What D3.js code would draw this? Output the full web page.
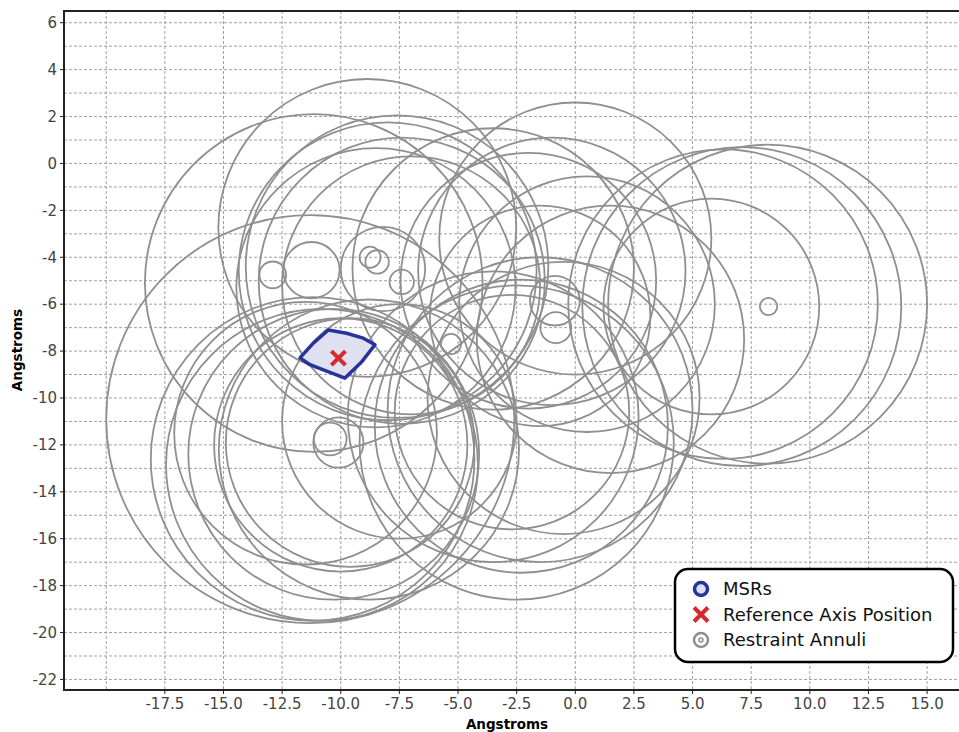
<!DOCTYPE html>
<html>
<head>
<meta charset="utf-8">
<script src="https://cdn.jsdelivr.net/npm/d3@7"></script>
<style>
  body { margin: 0; background: #fff; }
  svg { display: block; font-family: "DejaVu Sans", sans-serif; }
</style>
</head>
<body>
<svg id="chart" width="959" height="732"></svg>
<script>
// tick labels
var xTicks = [-17.5, -15.0, -12.5, -10.0, -7.5, -5.0, -2.5, 0.0, 2.5, 5.0, 7.5, 10.0, 12.5, 15.0];
var yTicks = [-22, -20, -18, -16, -14, -12, -10, -8, -6, -4, -2, 0, 2, 4, 6];

// restraint annuli (centre x, centre y, radius) in Angstroms
var ringX = [-8.87, -11.15, -7.6, -8.0, -7.4, -8.5, -7.0,
             0.0, -1.0, -2.0, 0.5, -1.5, -3.5, 1.5,
             -2.5, -2.3, -2.7, -1.5, -0.5, -3.5,
             -11.3, -10.8, -11.2, -10.3, -10.0, -9.6, -11.5, -8.8, -7.5,
             6.3, 7.1, 8.2, 5.8,
             -12.9, -11.25, -8.75, -8.45, -8.2, -7.4, -5.3, -10.1, -10.45, -0.87, -0.83, 8.24];
var ringY = [-2.75, -5.1, -4.4, -4.6, -5.0, -5.3, -5.2,
             -3.2, -4.6, -5.0, -6.0, -6.5, -4.5, -7.5,
             -11.9, -11.2, -10.6, -10.5, -10.0, -10.8,
             -10.9, -12.85, -12.6, -12.4, -12.0, -11.9, -11.5, -12.2, -11.0,
             -6.0, -6.1, -6.0, -6.1,
             -4.75, -4.55, -4.0, -4.2, -4.5, -5.05, -7.7, -11.9, -11.75, -5.85, -7.0, -6.1];
var ringR = [6.35, 7.2, 6.45, 6.35, 6.1, 5.95, 5.5,
             5.8, 5.7, 5.45, 5.45, 4.7, 6.0, 5.7,
             6.7, 6.25, 5.0, 6.5, 5.8, 6.2,
             8.7, 6.65, 6.9, 6.2, 5.4, 5.3, 5.6, 6.4, 5.0,
             6.6, 6.8, 6.8, 4.6,
             0.57, 1.2, 0.45, 0.5, 1.8, 0.52, 0.43, 1.07, 0.7, 1.06, 0.66, 0.37];

// MSR boundary and reference axis position
var msrX = [-11.74, -11.17, -10.53, -9.75, -9.04, -8.54, -9.10, -9.82, -10.74, -11.31];
var msrY = [-8.29, -7.66, -7.10, -7.24, -7.45, -7.73, -8.45, -9.15, -8.80, -8.58];
var refX = -10.1, refY = -8.3;

var legendLabels = ["MSRs", "Reference Axis Position", "Restraint Annuli"];

var svg = d3.select("#chart");
var pLeft = 64, pTop = 11, pRight = 974, pBottom = 690;

var x = d3.scaleLinear().domain([-21.8, 17.0]).range([pLeft, pRight]);
var y = d3.scaleLinear().domain([6.5, -22.45]).range([pTop, pBottom]);

var gray = "#8f8f8f";

// grid
var grid = svg.append("g");
var xGrid = [-20].concat(xTicks);
grid.selectAll("line.vx").data(xGrid).enter().append("line")
    .attr("x1", d => x(d)).attr("x2", d => x(d))
    .attr("y1", pTop).attr("y2", pBottom)
    .attr("stroke", "#a0a0a0").attr("stroke-width", 1).attr("stroke-dasharray", "3,2");
grid.selectAll("line.hy").data(d3.range(-22, 7, 1)).enter().append("line")
    .attr("x1", pLeft).attr("x2", pRight)
    .attr("y1", d => y(d)).attr("y2", d => y(d))
    .attr("stroke", "#a0a0a0").attr("stroke-width", 1).attr("stroke-dasharray", "3,2");

// annuli
svg.append("defs").append("clipPath").attr("id", "clip")
  .append("rect").attr("x", pLeft).attr("y", pTop).attr("width", pRight - pLeft).attr("height", pBottom - pTop);

var plot = svg.append("g").attr("clip-path", "url(#clip)");
plot.selectAll("circle.ring").data(ringX).enter().append("circle")
    .attr("cx", (d, i) => x(ringX[i]))
    .attr("cy", (d, i) => y(ringY[i]))
    .attr("r", (d, i) => x(ringR[i]) - x(0))
    .attr("fill", "none").attr("stroke", gray).attr("stroke-width", 1.8);

// MSR
var msrPts = msrX.map((d, i) => [x(d), y(msrY[i])]);
plot.append("path")
    .attr("d", d3.line().curve(d3.curveLinearClosed)(msrPts))
    .attr("fill", "#dfe1f1").attr("stroke", "#27339a")
    .attr("stroke-width", 3.5).attr("stroke-linejoin", "round");

// reference axis X
function cross(g, cx, cy, s) {
  g.append("path")
    .attr("d", `M${cx - s},${cy - s}L${cx + s},${cy + s}M${cx - s},${cy + s}L${cx + s},${cy - s}`)
    .attr("stroke", "#d62a2a").attr("stroke-width", 4).attr("stroke-linecap", "butt");
}
cross(plot, x(refX), y(refY), 7);

// frame
svg.append("rect").attr("x", pLeft).attr("y", pTop).attr("width", pRight - pLeft).attr("height", pBottom - pTop)
    .attr("fill", "none").attr("stroke", "#222").attr("stroke-width", 2);

// ticks
var xAxis = svg.append("g");
xAxis.selectAll("line").data(xTicks).enter().append("line")
    .attr("x1", d => x(d)).attr("x2", d => x(d))
    .attr("y1", pBottom).attr("y2", pBottom + 4).attr("stroke", "#222");
xAxis.selectAll("text").data(xTicks).enter().append("text")
    .attr("x", d => x(d)).attr("y", pBottom + 19)
    .attr("text-anchor", "middle").attr("font-size", 15).attr("fill", "#444")
    .text(d => d3.format(".1f")(d).replace("−", "-"));

var yAxis = svg.append("g");
yAxis.selectAll("line").data(yTicks).enter().append("line")
    .attr("x1", pLeft - 4).attr("x2", pLeft)
    .attr("y1", d => y(d)).attr("y2", d => y(d)).attr("stroke", "#222");
yAxis.selectAll("text").data(yTicks).enter().append("text")
    .attr("x", pLeft - 7).attr("y", d => y(d))
    .attr("dy", "0.35em")
    .attr("text-anchor", "end").attr("font-size", 15).attr("fill", "#444")
    .text(d => String(d));

// axis labels
svg.append("text").attr("x", 507).attr("y", 729)
    .attr("text-anchor", "middle").attr("font-size", 13.5).attr("font-weight", "bold")
    .text("Angstroms");
svg.append("text").attr("transform", "translate(22,350) rotate(-90)")
    .attr("text-anchor", "middle").attr("font-size", 13.5).attr("font-weight", "bold")
    .text("Angstroms");

// legend
var lg = svg.append("g");
lg.append("rect").attr("x", 675).attr("y", 569).attr("width", 278).attr("height", 93)
    .attr("rx", 13).attr("fill", "#fff").attr("stroke", "#000").attr("stroke-width", 2.5);
var rowY = [589, 614.5, 640];
lg.append("circle").attr("cx", 701).attr("cy", rowY[0]).attr("r", 6.5)
    .attr("fill", "#dfe1f1").attr("stroke", "#27339a").attr("stroke-width", 3.5);
cross(lg, 701, rowY[1], 7);
lg.append("circle").attr("cx", 701).attr("cy", rowY[2]).attr("r", 7)
    .attr("fill", "none").attr("stroke", gray).attr("stroke-width", 2.5);
lg.append("circle").attr("cx", 701).attr("cy", rowY[2]).attr("r", 2)
    .attr("fill", "none").attr("stroke", gray).attr("stroke-width", 1.5);
lg.selectAll("text").data(legendLabels).enter().append("text")
    .attr("x", 723).attr("y", (d, i) => rowY[i]).attr("dy", "0.35em")
    .attr("font-size", 18).attr("fill", "#111")
    .text(d => d);
</script>
</body>
</html>
